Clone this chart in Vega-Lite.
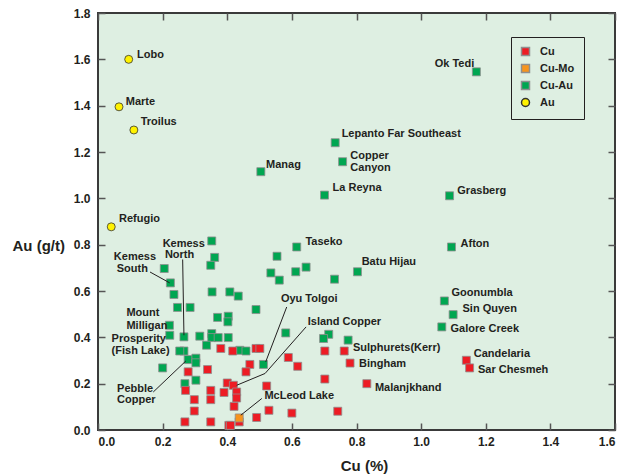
{
  "$schema": "https://vega.github.io/schema/vega-lite/v6.json",
  "width": 517,
  "height": 417,
  "autosize": {"type": "none"},
  "padding": {"left": 98, "top": 13, "right": 16, "bottom": 44},
  "background": "white",
  "config": {
    "view": {"fill": "#deefe2", "stroke": "#3a3a3a", "strokeWidth": 2},
    "font": "Liberation Sans",
    "axis": {"labelFont": "Liberation Sans", "labelFontWeight": "bold", "labelFontSize": 12, "labelColor": "#231f20", "titleFont": "Liberation Sans", "titleFontWeight": "bold", "titleFontSize": 15, "titleColor": "#231f20", "grid": false, "domain": false, "tickColor": "#555555", "tickWidth": 1.5, "tickSize": -7}
  },
  "datasets": {
    "deposits": [
      {"type": "Cu-Au", "cu": 0.352, "au": 0.816}, {"type": "Cu-Au", "cu": 0.615, "au": 0.790}, {"type": "Cu-Au", "cu": 0.361, "au": 0.745},
      {"type": "Cu-Au", "cu": 0.349, "au": 0.711}, {"type": "Cu-Au", "cu": 0.554, "au": 0.750}, {"type": "Cu-Au", "cu": 0.205, "au": 0.697},
      {"type": "Cu-Au", "cu": 0.535, "au": 0.678}, {"type": "Cu-Au", "cu": 0.612, "au": 0.683}, {"type": "Cu-Au", "cu": 0.561, "au": 0.647},
      {"type": "Cu-Au", "cu": 0.644, "au": 0.703}, {"type": "Cu-Au", "cu": 0.732, "au": 0.651}, {"type": "Cu-Au", "cu": 0.803, "au": 0.683},
      {"type": "Cu-Au", "cu": 0.224, "au": 0.635}, {"type": "Cu-Au", "cu": 0.235, "au": 0.585}, {"type": "Cu-Au", "cu": 0.353, "au": 0.596},
      {"type": "Cu-Au", "cu": 0.408, "au": 0.596}, {"type": "Cu-Au", "cu": 0.434, "au": 0.578}, {"type": "Cu-Au", "cu": 0.246, "au": 0.529},
      {"type": "Cu-Au", "cu": 0.285, "au": 0.529}, {"type": "Cu-Au", "cu": 0.489, "au": 0.520}, {"type": "Cu-Au", "cu": 0.370, "au": 0.486},
      {"type": "Cu-Au", "cu": 0.403, "au": 0.491}, {"type": "Cu-Au", "cu": 0.402, "au": 0.467}, {"type": "Cu-Au", "cu": 0.221, "au": 0.452},
      {"type": "Cu-Au", "cu": 0.222, "au": 0.409}, {"type": "Cu-Au", "cu": 0.266, "au": 0.402}, {"type": "Cu-Au", "cu": 0.315, "au": 0.405},
      {"type": "Cu-Au", "cu": 0.352, "au": 0.416}, {"type": "Cu-Au", "cu": 0.352, "au": 0.399}, {"type": "Cu-Au", "cu": 0.372, "au": 0.399},
      {"type": "Cu-Au", "cu": 0.403, "au": 0.399}, {"type": "Cu-Au", "cu": 0.581, "au": 0.419}, {"type": "Cu-Au", "cu": 0.336, "au": 0.366},
      {"type": "Cu-Au", "cu": 0.266, "au": 0.341}, {"type": "Cu-Au", "cu": 0.253, "au": 0.341}, {"type": "Cu-Au", "cu": 0.439, "au": 0.344},
      {"type": "Cu-Au", "cu": 0.458, "au": 0.341}, {"type": "Cu-Au", "cu": 0.279, "au": 0.304}, {"type": "Cu-Au", "cu": 0.303, "au": 0.310},
      {"type": "Cu-Au", "cu": 0.303, "au": 0.290}, {"type": "Cu-Au", "cu": 0.512, "au": 0.283}, {"type": "Cu-Au", "cu": 0.200, "au": 0.268},
      {"type": "Cu-Au", "cu": 0.303, "au": 0.215}, {"type": "Cu-Au", "cu": 0.269, "au": 0.200}, {"type": "Cu-Au", "cu": 0.714, "au": 0.413},
      {"type": "Cu-Au", "cu": 0.698, "au": 0.395}, {"type": "Cu-Au", "cu": 0.774, "au": 0.388}, {"type": "Cu-Au", "cu": 1.072, "au": 0.557},
      {"type": "Cu-Au", "cu": 1.099, "au": 0.498}, {"type": "Cu-Au", "cu": 1.064, "au": 0.445}, {"type": "Cu-Au", "cu": 1.171, "au": 1.546},
      {"type": "Cu-Au", "cu": 1.088, "au": 1.011}, {"type": "Cu-Au", "cu": 1.094, "au": 0.790}, {"type": "Cu-Au", "cu": 0.734, "au": 1.240},
      {"type": "Cu-Au", "cu": 0.757, "au": 1.158}, {"type": "Cu-Au", "cu": 0.504, "au": 1.115}, {"type": "Cu-Au", "cu": 0.701, "au": 1.014},
      {"type": "Cu", "cu": 0.380, "au": 0.352}, {"type": "Cu", "cu": 0.417, "au": 0.341}, {"type": "Cu", "cu": 0.489, "au": 0.352},
      {"type": "Cu", "cu": 0.501, "au": 0.352}, {"type": "Cu", "cu": 0.470, "au": 0.283}, {"type": "Cu", "cu": 0.458, "au": 0.251},
      {"type": "Cu", "cu": 0.589, "au": 0.313}, {"type": "Cu", "cu": 0.618, "au": 0.275}, {"type": "Cu", "cu": 0.339, "au": 0.261},
      {"type": "Cu", "cu": 0.279, "au": 0.251}, {"type": "Cu", "cu": 0.400, "au": 0.203}, {"type": "Cu", "cu": 0.419, "au": 0.193},
      {"type": "Cu", "cu": 0.522, "au": 0.190}, {"type": "Cu", "cu": 0.271, "au": 0.171}, {"type": "Cu", "cu": 0.349, "au": 0.171},
      {"type": "Cu", "cu": 0.390, "au": 0.162}, {"type": "Cu", "cu": 0.429, "au": 0.164}, {"type": "Cu", "cu": 0.429, "au": 0.138},
      {"type": "Cu", "cu": 0.298, "au": 0.131}, {"type": "Cu", "cu": 0.349, "au": 0.131}, {"type": "Cu", "cu": 0.421, "au": 0.102},
      {"type": "Cu", "cu": 0.298, "au": 0.082}, {"type": "Cu", "cu": 0.529, "au": 0.085}, {"type": "Cu", "cu": 0.600, "au": 0.073},
      {"type": "Cu", "cu": 0.491, "au": 0.054}, {"type": "Cu", "cu": 0.269, "au": 0.035}, {"type": "Cu", "cu": 0.349, "au": 0.035},
      {"type": "Cu", "cu": 0.405, "au": 0.020}, {"type": "Cu", "cu": 0.410, "au": 0.020}, {"type": "Cu", "cu": 0.437, "au": 0.035},
      {"type": "Cu", "cu": 0.702, "au": 0.341}, {"type": "Cu", "cu": 0.762, "au": 0.341}, {"type": "Cu", "cu": 0.780, "au": 0.289},
      {"type": "Cu", "cu": 0.702, "au": 0.220}, {"type": "Cu", "cu": 0.832, "au": 0.200}, {"type": "Cu", "cu": 0.742, "au": 0.081},
      {"type": "Cu", "cu": 1.140, "au": 0.301}, {"type": "Cu", "cu": 1.150, "au": 0.268},
      {"type": "Cu-Mo", "cu": 0.437, "au": 0.052},
      {"type": "Au", "cu": 0.095, "au": 1.600}, {"type": "Au", "cu": 0.065, "au": 1.395}, {"type": "Au", "cu": 0.111, "au": 1.295},
      {"type": "Au", "cu": 0.041, "au": 0.877}
    ],
    "labels": [
      {"name": "Lobo", "cu": 0.121, "au": 1.620}, {"name": "Marte", "cu": 0.086, "au": 1.417}, {"name": "Troilus", "cu": 0.132, "au": 1.328},
      {"name": "Refugio", "cu": 0.065, "au": 0.909}, {"name": "Ok Tedi", "cu": 1.042, "au": 1.580}, {"name": "Lepanto Far Southeast", "cu": 0.754, "au": 1.277},
      {"name": "Copper", "cu": 0.781, "au": 1.182}, {"name": "Canyon", "cu": 0.781, "au": 1.129}, {"name": "Manag", "cu": 0.520, "au": 1.146},
      {"name": "La Reyna", "cu": 0.726, "au": 1.043}, {"name": "Grasberg", "cu": 1.112, "au": 1.031}, {"name": "Taseko", "cu": 0.642, "au": 0.811},
      {"name": "Batu Hijau", "cu": 0.816, "au": 0.726}, {"name": "Afton", "cu": 1.122, "au": 0.805}, {"name": "Goonumbla", "cu": 1.094, "au": 0.592},
      {"name": "Sin Quyen", "cu": 1.128, "au": 0.524}, {"name": "Galore Creek", "cu": 1.091, "au": 0.435}, {"name": "Candelaria", "cu": 1.163, "au": 0.330},
      {"name": "Sar Chesmeh", "cu": 1.176, "au": 0.261}, {"name": "Sulphurets(Kerr)", "cu": 0.789, "au": 0.352}, {"name": "Bingham", "cu": 0.808, "au": 0.283},
      {"name": "Malanjkhand", "cu": 0.857, "au": 0.183}, {"name": "Island Copper", "cu": 0.649, "au": 0.467}, {"name": "Oyu Tolgoi", "cu": 0.566, "au": 0.565},
      {"name": "McLeod Lake", "cu": 0.515, "au": 0.145}, {"name": "Kemess", "cu": 0.200, "au": 0.802}, {"name": "North", "cu": 0.207, "au": 0.755},
      {"name": "Kemess", "cu": 0.049, "au": 0.745}, {"name": "South", "cu": 0.058, "au": 0.697}, {"name": "Mount", "cu": 0.088, "au": 0.505},
      {"name": "Milligan", "cu": 0.088, "au": 0.449}, {"name": "Prosperity", "cu": 0.042, "au": 0.392}, {"name": "(Fish Lake)", "cu": 0.042, "au": 0.341},
      {"name": "Pebble", "cu": 0.059, "au": 0.179}, {"name": "Copper", "cu": 0.059, "au": 0.128}
    ],
    "leaders": [
      {"cu": 0.161, "au": 0.682, "cu2": 0.222, "au2": 0.635},
      {"cu": 0.262, "au": 0.736, "cu2": 0.266, "au2": 0.409},
      {"cu": 0.584, "au": 0.531, "cu2": 0.519, "au2": 0.294},
      {"cu": 0.644, "au": 0.445, "cu2": 0.517, "au2": 0.244},
      {"cu": 0.517, "au": 0.244, "cu2": 0.429, "au2": 0.193},
      {"cu": 0.171, "au": 0.164, "cu2": 0.272, "au2": 0.298},
      {"cu": 0.507, "au": 0.136, "cu2": 0.442, "au2": 0.064}
    ]
  },
  "layer": [
    {
      "data": {"name": "deposits"},
      "mark": {"type": "point", "filled": true, "size": 64, "opacity": 1, "strokeWidth": 0.8},
      "encoding": {
        "x": {"field": "cu", "type": "quantitative", "scale": {"domain": [0, 1.6], "nice": false, "zero": false},
              "axis": {"orient": "bottom", "values": [0, 0.2, 0.4, 0.6, 0.8, 1.0, 1.2, 1.4, 1.6], "format": ".1f", "labelPadding": 13, "title": "Cu (%)", "titleX": 266, "titleY": 35, "titleBaseline": "middle", "titleAnchor": "middle"}},
        "y": {"field": "au", "type": "quantitative", "scale": {"domain": [0, 1.8], "nice": false, "zero": false},
              "axis": {"orient": "left", "values": [0, 0.2, 0.4, 0.6, 0.8, 1.0, 1.2, 1.4, 1.6, 1.8], "format": ".1f", "labelPadding": 15, "title": "Au (g/t)", "titleAngle": 0, "titleX": -86, "titleY": 232, "titleAlign": "left", "titleBaseline": "middle"}},
        "color": {"field": "type", "type": "nominal", "scale": {"domain": ["Cu", "Cu-Mo", "Cu-Au", "Au"], "range": ["#ed1c24", "#f7941d", "#00a651", "#fff200"]},
                  "legend": {"orient": "none", "legendX": 413, "legendY": 24, "title": null, "strokeColor": "#231f20", "padding": 9, "rowPadding": 2, "labelOffset": 9, "labelFont": "Liberation Sans", "labelFontWeight": "bold", "labelFontSize": 11, "labelColor": "#231f20", "symbolSize": 64}},
        "shape": {"field": "type", "type": "nominal", "scale": {"domain": ["Cu", "Cu-Mo", "Cu-Au", "Au"], "range": ["square", "square", "square", "circle"]}},
        "stroke": {"field": "type", "type": "nominal", "scale": {"domain": ["Cu", "Cu-Mo", "Cu-Au", "Au"], "range": ["#8f8f8f", "#8f8f8f", "#8f8f8f", "#333333"]}}
      }
    },
    {
      "data": {"name": "labels"},
      "mark": {"type": "text", "align": "left", "baseline": "middle", "font": "Liberation Sans", "fontWeight": "bold", "fontSize": 11, "color": "#231f20"},
      "encoding": {
        "x": {"field": "cu", "type": "quantitative", "axis": {"orient": "top", "values": [0, 0.2, 0.4, 0.6, 0.8, 1.0, 1.2, 1.4, 1.6], "labels": false, "title": null}},
        "y": {"field": "au", "type": "quantitative", "axis": {"orient": "right", "values": [0, 0.2, 0.4, 0.6, 0.8, 1.0, 1.2, 1.4, 1.6, 1.8], "labels": false, "title": null}},
        "text": {"field": "name", "type": "nominal"}
      }
    },
    {
      "data": {"name": "leaders"},
      "mark": {"type": "rule", "color": "#231f20", "strokeWidth": 1},
      "encoding": {
        "x": {"field": "cu", "type": "quantitative", "axis": null},
        "y": {"field": "au", "type": "quantitative", "axis": null},
        "x2": {"field": "cu2"},
        "y2": {"field": "au2"}
      }
    }
  ],
  "resolve": {"axis": {"x": "independent", "y": "independent"}}
}
